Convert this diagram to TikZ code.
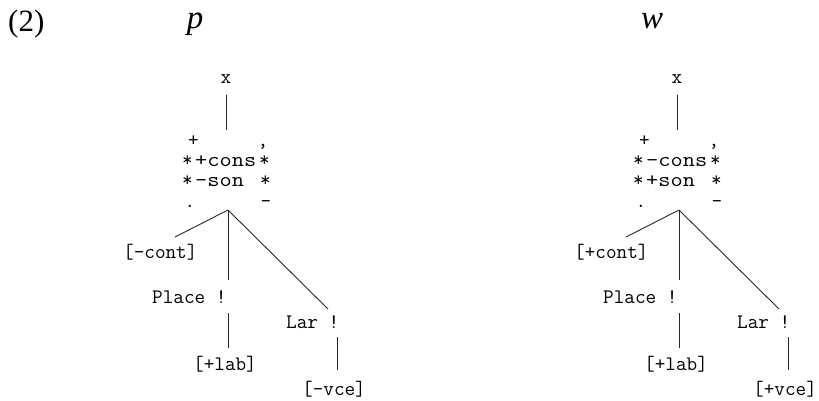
\documentclass[tikz,border=0pt]{standalone}
\usepackage{fontspec}
\setmainfont{Liberation Serif}
\setmonofont{Latin Modern Mono}
\newfontfamily\widemono[FakeStretch=1.15]{Latin Modern Mono}
\tikzset{
  feat/.style={font=\ttfamily\fontsize{20.6}{22}\selectfont, inner sep=0pt, anchor=base west},
  featc/.style={feat, anchor=base},
  piece/.style={feat, anchor=center},
  matrow/.style={feat, font=\widemono\fontsize{20.6}{22}\selectfont},
  branch/.style={line width=0.9pt, draw=black!85},
  seg/.style={font=\fontsize{33}{35}\selectfont\itshape, inner sep=0pt, anchor=base},
}
\newcommand\mns{\textendash}
% one feature tree: #1 name prefix, #2 horizontal shift,
% #3 cons value, #4 son value, #5 cont value, #6 vce value
\newcommand\featuretree[6]{%
  \begin{scope}[xshift=#2]
    \node[featc] (#1root) at (226,83) {x};
    \coordinate (#1rootb) at (226,95);
    \coordinate (#1mtop) at (226,130);
    % feature matrix: bracket pieces and the two rows
    \node[piece] (#1tl) at (193.5,141.5) {+};
    \node[piece] (#1tr) at (263,146.5) {,};
    \node[feat] (#1ls) at (182,166) {*};
    \node[matrow] (#1cons) at (195,166) {#3cons};
    \node[feat] (#1rs) at (259,166) {*};
    \node[feat] (#1ls2) at (182,186) {*};
    \node[matrow] (#1son) at (195,186) {#4son};
    \node[feat] (#1rs2) at (260,186) {*};
    \node[piece] (#1bl) at (190,206) {.};
    \node[piece] (#1br) at (266,204) {\mns};
    \coordinate (#1apex) at (228,210);
    % daughters
    \node[feat] (#1cont) at (123,258) {[#5cont]};
    \coordinate (#1conttop) at (175,237);
    \node[feat] (#1place) at (152,303) {Place !};
    \coordinate (#1placetop) at (228,280);
    \coordinate (#1placeb) at (228,313);
    \coordinate (#1labtop) at (228,348);
    \node[feat] (#1lab) at (193,370) {[+lab]};
    \node[feat] (#1lar) at (286,328) {Lar !};
    \coordinate (#1lartop) at (328,309);
    \coordinate (#1larb) at (337,337);
    \coordinate (#1vcetop) at (337,370);
    \node[feat] (#1vce) at (302,395) {[#6vce]};
    % branches
    \draw[branch] (#1rootb) -- (#1mtop);
    \draw[branch] (#1apex) -- (#1conttop);
    \draw[branch] (#1apex) -- (#1placetop);
    \draw[branch] (#1apex) -- (#1lartop);
    \draw[branch] (#1placeb) -- (#1labtop);
    \draw[branch] (#1larb) -- (#1vcetop);
  \end{scope}}
\begin{document}
\begin{tikzpicture}[x=1pt, y=-1pt]
  \useasboundingbox (0,0) rectangle (819,400);
  \node[anchor=base west, inner sep=0pt, font=\fontsize{31}{33}\selectfont] (exnum) at (8,31) {(2)};
  \node[seg] (pseg) at (195,28) {p};
  \node[seg] (wseg) at (652,28) {w};
  \featuretree{p}{0pt}{+}{\mns}{\mns}{\mns}
  \featuretree{w}{451pt}{\mns}{+}{+}{+}
\end{tikzpicture}
\end{document}
